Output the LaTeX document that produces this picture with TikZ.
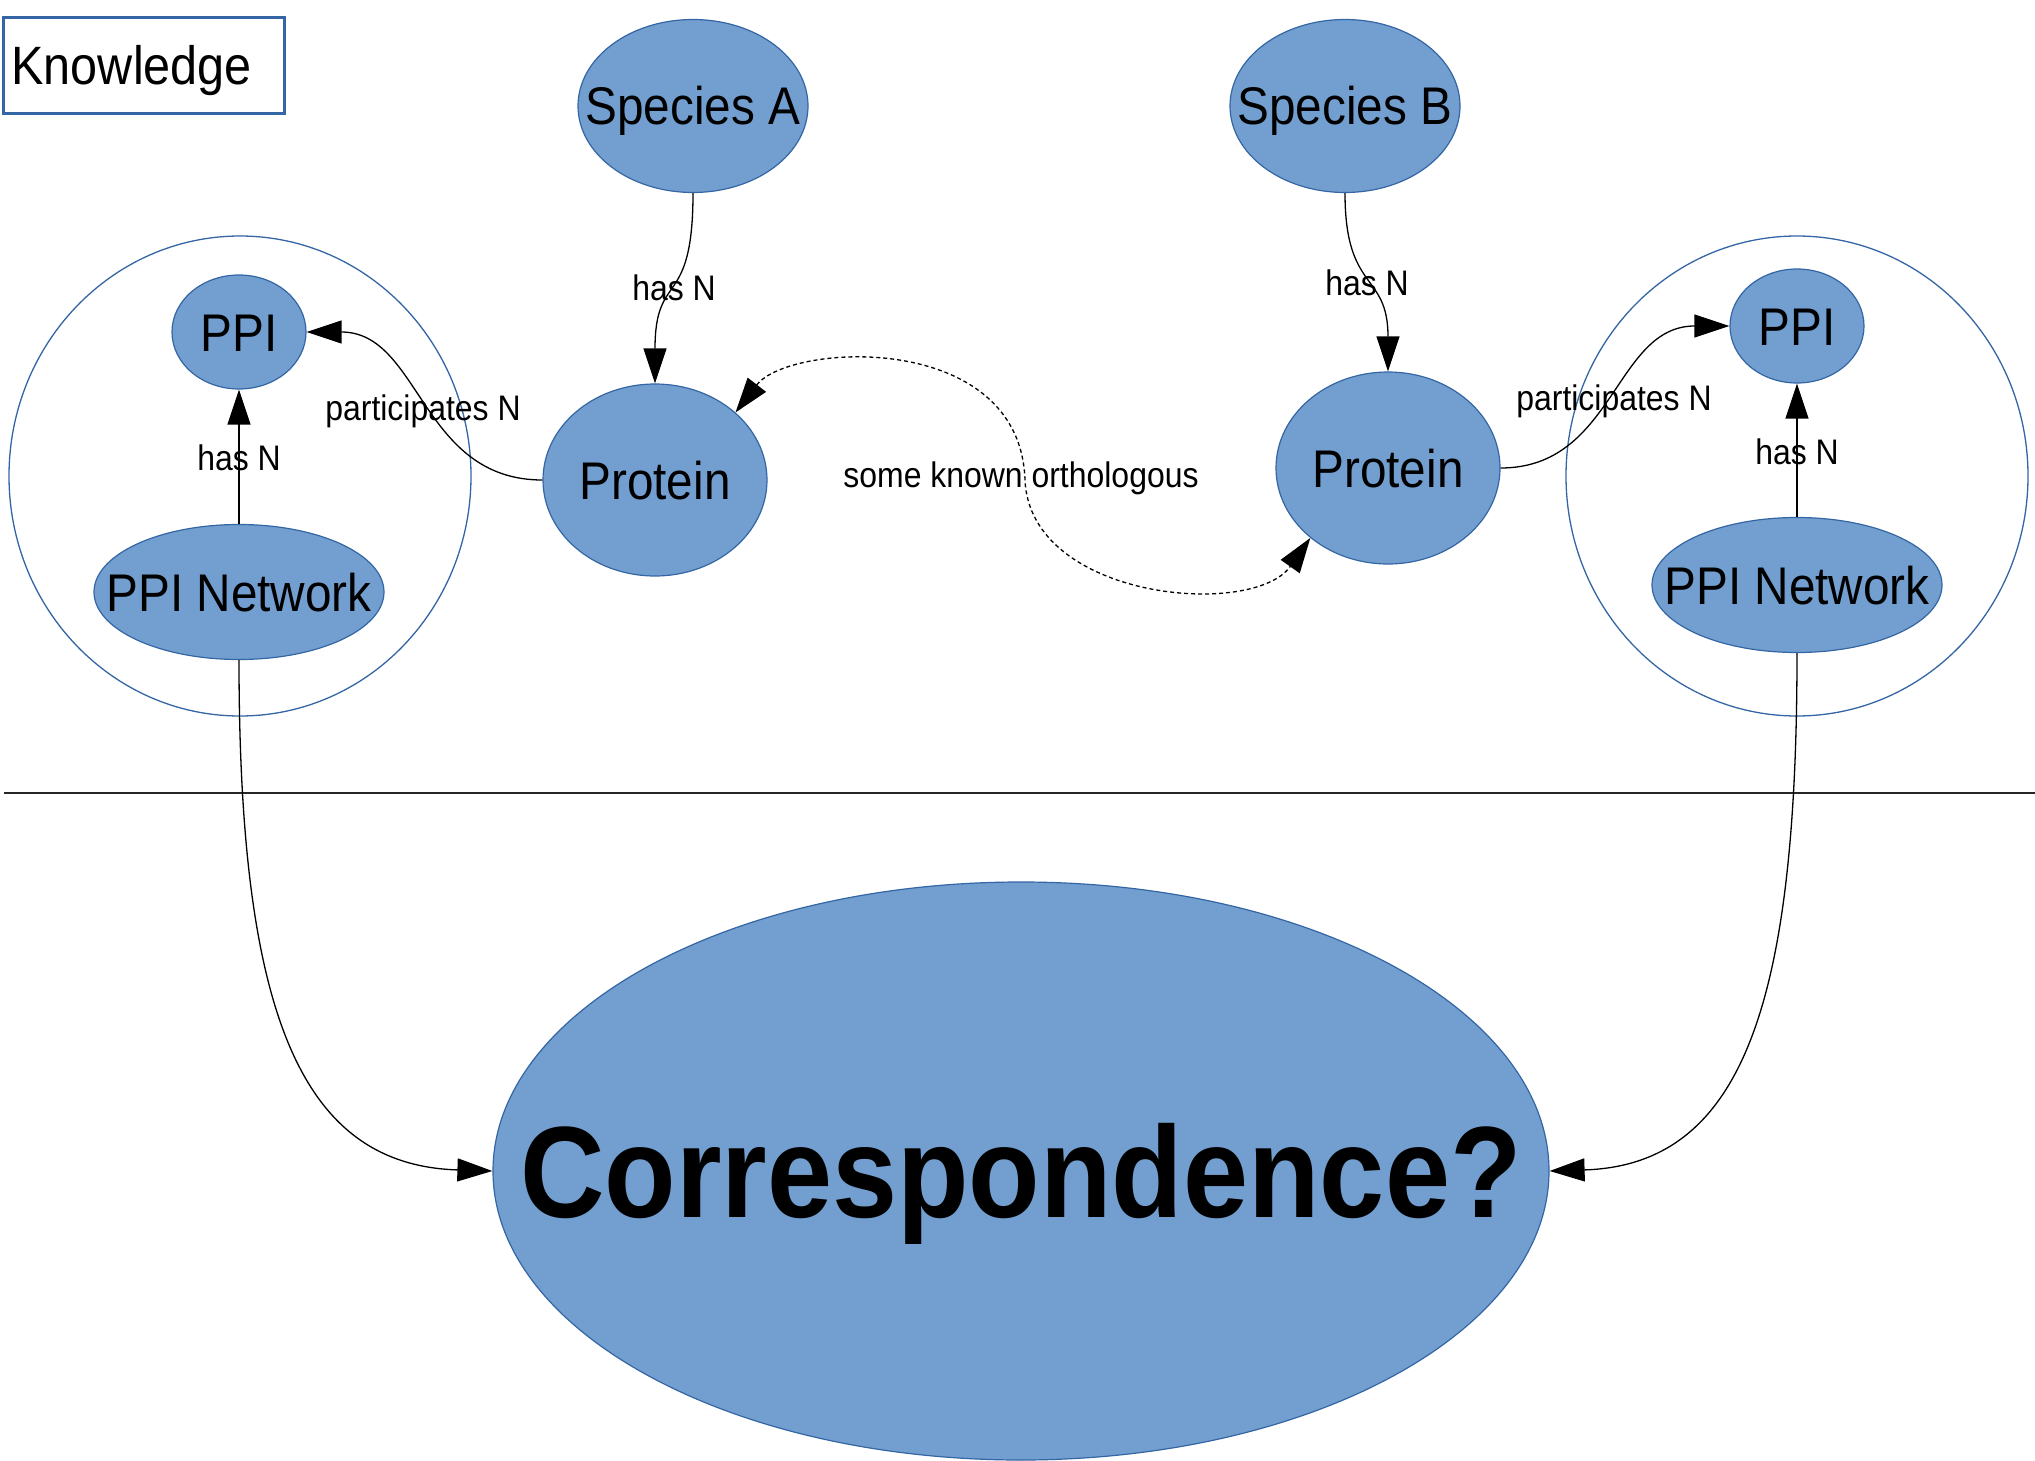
\documentclass[tikz,border=0pt]{standalone}
\usepackage{fontspec}
\setmainfont{Liberation Sans}[FakeStretch=0.9]
\usetikzlibrary{shapes.geometric,arrows.meta}
\definecolor{nodefill}{HTML}{729FCF}
\definecolor{nodeline}{HTML}{3465A4}
% zero-width box so the text does not enlarge the ellipse
\newcommand\zw[1]{\makebox[0pt]{#1}}

\begin{document}
\begin{tikzpicture}[x=1pt,y=-1pt,
  concept/.style={ellipse, draw=nodeline, line width=1.2pt, fill=nodefill,
    inner sep=0pt, font=\fontsize{53}{60}\selectfont, text height=38pt, text depth=0pt},
  dims/.style 2 args={minimum width=#1pt, minimum height=#2pt},
  group/.style={ellipse, draw=nodeline, line width=1.3pt, inner sep=0pt},
  rel/.style={font=\fontsize{35.5}{40}\selectfont, inner sep=0pt, text height=25.5pt, text depth=0pt},
  tip/.tip={Triangle[length=35pt,width=23pt]},
  link/.style={draw=black, line width=1.3pt, -tip},
  ortho/.style={draw=black, line width=1.3pt, dash pattern=on 4pt off 3pt, tip-tip},
]
\useasboundingbox (0,0) rectangle (2035,1461);

% knowledge label
\node[draw=nodeline, line width=3pt, anchor=north west, inner xsep=8.5pt, inner ysep=0pt,
  text width=264pt, align=left, minimum height=96pt, text height=38.5pt, text depth=0pt,
  font=\fontsize{54}{60}\selectfont] (know) at (1.5,16) {Knowledge};

% grouping circles
\node[group, dims={462}{480}] (grpL) at (240,476) {};
\node[group, dims={462}{480}] (grpR) at (1797,476) {};

% concepts
\node[concept, dims={230}{173}] (spA) at (693,106) {\zw{Species A}};
\node[concept, dims={230}{173}] (spB) at (1345,106) {\zw{Species B}};
\node[concept, dims={224}{192}] (protL) at (655,480) {\zw{Protein}};
\node[concept, dims={224}{192}] (protR) at (1388,468) {\zw{Protein}};
\node[concept, dims={134}{114}] (ppiL) at (239,332) {\zw{PPI}};
\node[concept, dims={134}{114}] (ppiR) at (1797,326) {\zw{PPI}};
\node[concept, dims={290}{135}] (netL) at (239,592) {\zw{PPI Network}};
\node[concept, dims={290}{135}] (netR) at (1797,585) {\zw{PPI Network}};
\node[concept, dims={1056}{578}, font=\bfseries\fontsize{130}{140}\selectfont,
  text height=93pt] (corr) at (1021,1171) {\zw{Correspondence?}};

% separator
\coordinate (sepL) at (4,793);
\coordinate (sepR) at (2035,793);
\draw[line width=1.2pt, black!85] (sepL) -- (sepR);

% relations
\draw[link] (spA.south) .. controls +(0,118) and +(0,-114) .. (protL.north);
\draw[link] (spB.south) .. controls +(0,100) and +(0,-100) .. (protR.north);
\draw[link] (protL.west) .. controls +(-122,0) and +(114,0) .. (ppiL.east);
\draw[link] (protR.east) .. controls +(114,0) and +(-115,0) .. (ppiR.west);
\draw[link] (netL.north) -- (ppiL.south);
\draw[link] (netR.north) -- (ppiR.south);
\draw[link] (netL.south) .. controls +(0,351) and +(-193,-6) .. (corr.west);
\draw[link] (netR.south) .. controls +(0,351) and +(193,-6) .. (corr.east);

\coordinate (mid) at (1025,480);
\draw[ortho] (protL.40) .. controls +(54,-70) and +(-5,-150) .. (mid)
  .. controls +(5,120) and +(-57,81) .. (protR.222);

% relation labels
\node[rel] (lhasA) at (674,288) {has N};
\node[rel] (lhasB) at (1367,283) {has N};
\node[rel] (lpartL) at (423,408) {participates N};
\node[rel] (lpartR) at (1614,398) {participates N};
\node[rel] (lhasL) at (239,458) {has N};
\node[rel] (lhasR) at (1797,452) {has N};
\node[rel] (lortho) at (1021,475) {some known orthologous};
\end{tikzpicture}
\end{document}
